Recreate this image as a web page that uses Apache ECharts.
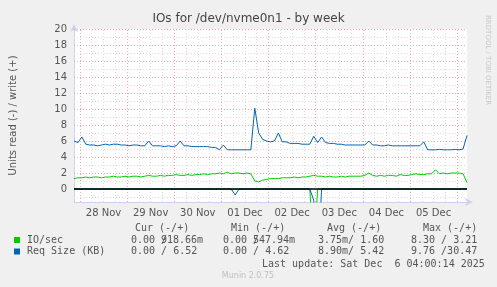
<!DOCTYPE html>
<html><head><meta charset="utf-8">
<script src="https://cdn.jsdelivr.net/npm/echarts@6/dist/echarts.min.js"></script>
<style>html,body{margin:0;padding:0;background:#f0f0f0}#c{width:497px;height:287px}</style>
</head><body><div id="c"></div>
<script>
// hours relative to 28 Nov 00:00, one sample every 2 hours
const startHour = -3;
const stepHours = 2;
const dayLabels = ['28 Nov','29 Nov','30 Nov','01 Dec','02 Dec','03 Dec','04 Dec','05 Dec'];
const yTicks = [0,2,4,6,8,10,12,14,16,18,20];

const reqWrite = [6.0,5.8,6.5,5.6,5.5,5.5,5.4,5.5,5.6,5.5,
  5.6,5.6,5.5,5.5,5.4,5.5,5.5,5.4,5.4,6.0,
  5.4,5.4,5.4,5.3,5.4,5.3,5.4,6.0,5.4,5.4,
  5.3,5.3,5.3,5.3,5.3,5.2,5.2,4.9,5.5,4.9,
  4.9,4.9,4.9,4.9,4.9,4.9,10.1,7.0,6.2,6.0,
  5.9,6.0,7.0,5.9,5.9,5.7,5.7,5.7,5.6,5.6,
  5.6,6.6,5.8,6.5,5.8,5.7,5.7,5.6,5.6,5.5,
  5.5,5.5,5.5,5.5,5.5,6.0,5.5,5.5,5.4,5.4,
  5.5,5.4,5.4,5.4,5.4,5.4,5.4,5.4,5.4,5.9,
  4.9,4.9,4.9,4.95,4.9,4.9,4.9,4.95,4.9,5.0,6.7];
const ioWrite = [1.3,1.4,1.4,1.5,1.4,1.5,1.5,1.4,1.5,1.5,
  1.6,1.5,1.5,1.6,1.5,1.6,1.6,1.5,1.6,1.7,
  1.6,1.6,1.7,1.6,1.7,1.7,1.8,1.7,1.7,1.8,
  1.7,1.8,1.8,1.9,1.8,1.9,1.9,2.0,1.9,2.1,
  1.9,2.0,2.0,1.9,2.0,1.9,1.0,0.9,1.1,1.2,
  1.3,1.3,1.3,1.4,1.4,1.4,1.5,1.4,1.5,1.5,
  1.6,1.7,1.6,1.6,1.5,1.6,1.5,1.5,1.6,1.5,
  1.6,1.6,1.6,1.6,1.7,2.0,1.7,1.6,1.7,1.6,
  1.7,1.7,1.6,1.8,1.7,1.7,1.8,1.9,1.8,1.8,
  1.9,1.9,2.4,1.9,2.0,1.9,2.0,2.0,2.0,1.9,0.8];
// read side (drawn negative): mostly zero with a few spikes
const reqRead = [0,0,0,0,0,0,0,0,0,0, 0,0,0,0,0,0,0,0,0,0,
  0,0,0,0,0,0,0,0,0,0, 0,0,0,0,0,0,0,0,0,0,
  0,-0.75,0,0,0,0,0,0,0,0, 0,0,0,0,0,0,0,0,0,0,
  0,-1.4,-9.76,0,0,0,0,0,0,0, 0,0,0,0,0,0,0,0,0,0,
  0,0,0,0,0,0,0,0,0,0, 0,0,0,0,0,0,0,0,0,0,0];
const ioRead = [0,0,0,0,0,0,0,0,0,0, 0,0,0,0,0,0,0,0,0,0,
  0,0,0,0,0,0,0,0,0,0, 0,0,0,0,0,0,0,0,0,0,
  0,0,0,0,0,0,0,0,0,0, 0,0,0,0,0,0,0,0,0,0,
  0,-8.3,0,0,0,0,0,0,0,0, 0,0,0,0,0,0,0,0,0,0,
  0,0,0,0,0,0,0,0,0,0, 0,0,0,0,0,0,0,0,0,0,0];

const legendRows = [
  {name:'IO/sec', color:'#00cc00', cur:['0.00 /','918.66m'], min:['0.00 /','547.94m'], avg:'3.75m/ 1.60', max:'8.30 / 3.21'},
  {name:'Req Size (KB)', color:'#0066b3', cur:['0.00 / 6.52',''], min:['0.00 / 4.62',''], avg:'8.90m/ 5.42', max:'9.76 /30.47'}
];

const pair = arr => arr.map((v,i)=>[startHour+i*stepHours, v]);

const RED = '#f2a8a8', GRAY = '#dcdcdc';
const vLines = [], hLines = [];
for (let h = 0; h <= 197; h += 6) {
  vLines.push({xAxis:h, lineStyle:{color: h%24===0 ? RED : GRAY, type:[1,2], width:1}});
}
for (let v = -1; v <= 20; v += 1) {
  if (v === 0) continue;
  hLines.push({yAxis:v, lineStyle:{color: v%2===0 ? RED : GRAY, type:[1,2], width:1}});
}
const gridLines = vLines.concat(hLines);

const mono = '10px "DejaVu Sans Mono"';
const T = (x,y,text,extra) => Object.assign({type:'text', x, y, style:{text, font: mono, fill:'#555', textVerticalAlign:'middle'}}, extra||{});
const graphics = [
  {type:'text', x:248.5, y:19, style:{text:'IOs for /dev/nvme0n1 - by week', font:'12px "DejaVu Sans"', fill:'#444', textAlign:'center', textVerticalAlign:'middle'}},
  {type:'text', x:488, y:15, rotation:-Math.PI/2, style:{text:'RRDTOOL / TOBI OETIKER', font:'7px "DejaVu Sans"', fill:'#c8c8c8', textVerticalAlign:'middle'}},
  T(135,228,'Cur (-/+)'), T(231,228,'Min (-/+)'), T(327,228,'Avg (-/+)'), T(423,228,'Max (-/+)'),
  T(262,264,'Last update: Sat Dec  6 04:00:14 2025'),
  {type:'text', x:248, y:276, style:{text:'Munin 2.0.75', font:'8px "DejaVu Sans"', fill:'#c0c0c0', textAlign:'center', textVerticalAlign:'middle'}}
];
legendRows.forEach((r,k)=>{
  const y = 240 + k*11.5;
  graphics.push({type:'rect', shape:{x:14,y:y-3,width:6,height:6}, style:{fill:r.color}});
  graphics.push(T(27,y,r.name));
  graphics.push(T(131,y,r.cur[0])); if (r.cur[1]) graphics.push(T(161,y,r.cur[1]));
  graphics.push(T(223,y,r.min[0])); if (r.min[1]) graphics.push(T(253,y,r.min[1]));
  graphics.push(T(318,y,r.avg)); graphics.push(T(411,y,r.max));
});

const chart = echarts.init(document.getElementById('c'), null, {renderer:'canvas'});
const axisLineStyle = {color:'#d0d0ee', width:1};
chart.setOption({
  animation:false,
  backgroundColor:'#f0f0f0',
  grid:{left:67, right:30, top:29, bottom:85, show:true, backgroundColor:'#ffffff', borderWidth:0},
  xAxis:{type:'value', min:-3, max:197,
    axisLine:{show:true, onZero:false, symbol:['none','arrow'], symbolSize:[6,8], symbolOffset:[0,6], lineStyle:axisLineStyle},
    axisTick:{show:false}, splitLine:{show:false},
    axisLabel:{customValues: dayLabels.map((_,i)=>12+24*i), formatter: v => dayLabels[Math.round((v-12)/24)],
      color:'#555', fontFamily:'DejaVu Sans', fontSize:10, margin:6}},
  yAxis:{type:'value', min:-1.625, max:20,
    name:'Units read (-) / write (+)', nameLocation:'middle', nameGap:56,
    nameTextStyle:{color:'#555', fontFamily:'DejaVu Sans', fontSize:10},
    axisLine:{show:true, onZero:false, symbol:['none','arrow'], symbolSize:[6,8], symbolOffset:[0,5], lineStyle:axisLineStyle},
    axisTick:{show:false}, splitLine:{show:false},
    axisLabel:{customValues: yTicks, color:'#555', fontFamily:'DejaVu Sans', fontSize:10, margin:7}},
  graphic: graphics,
  series:[
    {type:'line', data:pair(ioRead), showSymbol:false, lineStyle:{color:'#00cc00', width:1}, z:3,
      markLine:{silent:true, symbol:'none', label:{show:false}, animation:false, data:gridLines, z:1}},
    {type:'line', data:pair(reqRead), showSymbol:false, lineStyle:{color:'#0066b3', width:1}, z:3},
    {type:'line', data:pair(ioWrite), showSymbol:false, lineStyle:{color:'#00cc00', width:1}, z:3},
    {type:'line', data:pair(reqWrite), showSymbol:false, lineStyle:{color:'#0066b3', width:1}, z:3,
      markLine:{silent:true, symbol:'none', label:{show:false}, animation:false, data:[{yAxis:0, lineStyle:{color:'#000', type:'solid', width:1.5}}]}}
  ]
});
</script></body></html>
